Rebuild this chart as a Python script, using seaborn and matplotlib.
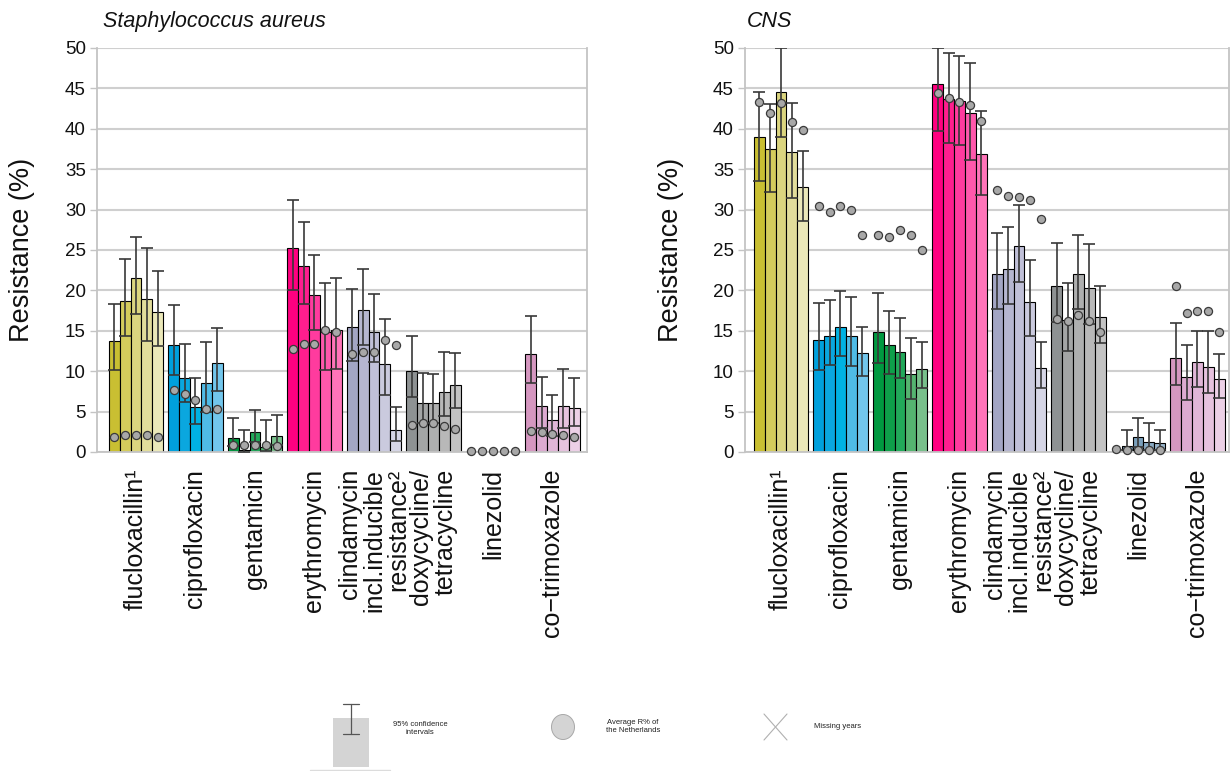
import numpy as np
import pandas as pd
import matplotlib
matplotlib.use("Agg")
import matplotlib.pyplot as plt
import seaborn as sns
from matplotlib.patches import Rectangle, Ellipse

sns.set_theme(style="white")
plt.rcParams["font.family"] = ["Liberation Sans", "DejaVu Sans"]

antibiotics = [
    "flucloxacillin¹",
    "ciprofloxacin",
    "gentamicin",
    "erythromycin",
    "clindamycin\nincl.inducible\nresistance²",
    "doxycycline/\ntetracycline",
    "linezolid",
    "co−trimoxazole",
]
years = ["2014", "2015", "2016", "2017", "2018"]
nan = np.nan

# Staphylococcus aureus: resistance (%), 95% CI and national average, per antibiotic x year
sa_resistance = [
    [13.7, 18.7, 21.5, 18.9, 17.3],
    [13.3, 9.2, 5.6, 8.6, 11.0],
    [1.7, 0.3, 2.5, 0.6, 2.0],
    [25.3, 23.0, 19.4, 14.8, 15.1],
    [15.5, 17.6, 14.8, 10.9, 2.7],
    [10.0, 6.1, 6.1, 7.4, 8.3],
    [0.0, 0.0, 0.0, 0.0, 0.0],
    [12.1, 5.7, 3.9, 5.7, 5.5],
]
sa_ci_low = [
    [10.1, 14.3, 17.1, 13.7, 13.1],
    [9.5, 6.2, 3.5, 4.9, 7.6],
    [0.7, 0.05, 1.2, 0.1, 0.9],
    [20.1, 18.3, 15.1, 10.2, 10.3],
    [11.3, 13.3, 11.2, 7.0, 1.3],
    [6.8, 3.6, 3.6, 4.4, 5.5],
    [nan, nan, nan, nan, nan],
    [8.5, 3.0, 2.0, 3.0, 3.2],
]
sa_ci_high = [
    [18.3, 23.9, 26.6, 25.3, 22.4],
    [18.2, 13.4, 9.2, 13.6, 15.4],
    [4.2, 2.7, 5.2, 3.9, 4.6],
    [31.2, 28.5, 24.4, 20.9, 21.5],
    [20.2, 22.6, 19.5, 16.4, 5.6],
    [14.4, 9.8, 9.6, 12.4, 12.3],
    [nan, nan, nan, nan, nan],
    [16.8, 9.3, 7.0, 10.3, 9.1],
]
sa_national = [
    [1.8, 2.1, 2.1, 2.1, 1.8],
    [7.7, 7.2, 6.4, 5.3, 5.3],
    [0.9, 0.9, 0.9, 0.9, 0.8],
    [12.7, 13.4, 13.4, 15.1, 14.9],
    [12.1, 12.4, 12.4, 13.8, 13.3],
    [3.3, 3.6, 3.6, 3.2, 2.9],
    [0.1, 0.1, 0.1, 0.1, 0.1],
    [2.6, 2.5, 2.2, 2.1, 1.8],
]

# Coagulase-negative staphylococci
cns_resistance = [
    [39.0, 37.5, 44.5, 37.1, 32.8],
    [13.8, 14.4, 15.5, 14.4, 12.2],
    [14.9, 13.2, 12.4, 9.7, 10.3],
    [45.5, 43.7, 43.5, 42.0, 36.9],
    [22.0, 22.7, 25.5, 18.6, 10.4],
    [20.5, 16.3, 22.0, 20.3, 16.7],
    [0.0, 0.7, 1.9, 1.2, 1.1],
    [11.6, 9.3, 11.1, 10.5, 9.0],
]
cns_ci_low = [
    [33.6, 32.2, 39.0, 31.4, 28.6],
    [10.1, 10.8, 11.9, 10.6, 9.4],
    [11.0, 9.7, 9.1, 6.6, 7.9],
    [39.7, 38.2, 38.0, 36.1, 31.8],
    [17.7, 18.3, 21.1, 14.3, 7.9],
    [16.1, 12.5, 17.7, 15.8, 13.5],
    [nan, 0.2, 0.6, 0.3, 0.3],
    [8.3, 6.4, 8.1, 7.3, 6.7],
]
cns_ci_high = [
    [44.6, 43.1, 50.0, 43.2, 37.3],
    [18.5, 18.8, 19.9, 19.2, 15.5],
    [19.7, 17.5, 16.6, 14.1, 13.6],
    [50.0, 49.4, 49.0, 48.1, 42.2],
    [27.1, 27.8, 30.6, 23.8, 13.6],
    [25.9, 20.9, 26.9, 25.7, 20.5],
    [nan, 2.7, 4.2, 3.6, 2.7],
    [16.0, 13.2, 15.0, 15.0, 12.1],
]
cns_national = [
    [43.3, 42.0, 43.2, 40.9, 39.8],
    [30.4, 29.7, 30.5, 30.0, 26.9],
    [26.8, 26.6, 27.5, 26.8, 25.0],
    [44.4, 43.8, 43.3, 43.0, 41.0],
    [32.4, 31.7, 31.6, 31.2, 28.8],
    [16.5, 16.2, 16.9, 16.2, 14.9],
    [0.4, 0.2, 0.2, 0.3, 0.3],
    [20.5, 17.2, 17.5, 17.4, 14.9],
]

# one shade per year (dark -> light) for every antibiotic
shades = [
    ["#c9bf32", "#d4cc5c", "#dbd57f", "#e2dd9b", "#ebe8b9"],
    ["#00a0dc", "#0aa7df", "#00b2e3", "#4fbbe6", "#72c6ec"],
    ["#009940", "#0e9f4a", "#22a95a", "#55b470", "#78c08b"],
    ["#ff0080", "#ff1e8e", "#ff3b9e", "#ff58ac", "#ff74b9"],
    ["#a3a6c4", "#b5b6d0", "#c0c0d8", "#cacade", "#d6d6e6"],
    ["#8e9293", "#a3a5a5", "#aeafaf", "#b8b8b8", "#c3c3c3"],
    ["#5a84a4", "#6a93b2", "#7aa0bc", "#8aabc4", "#9ab6cc"],
    ["#d597c0", "#dcaad0", "#e1b6d7", "#e6c2de", "#ecd0e6"],
]


def to_long(values):
    rows = []
    for i, ab in enumerate(antibiotics):
        for j, yr in enumerate(years):
            rows.append({"antibiotic": ab, "year": yr, "resistance": values[i][j]})
    return pd.DataFrame(rows)


def draw_panel(ax, values, low, high, national, title, xlim, title_x):
    df = to_long(values)
    sns.barplot(data=df, x="antibiotic", y="resistance", hue="year",
                order=antibiotics, hue_order=years, width=0.91, dodge=True,
                errorbar=None, edgecolor="black", linewidth=0.8,
                legend=False, ax=ax, zorder=2)
    xs, ys, lo, hi, nat = [], [], [], [], []
    for j, cont in enumerate(ax.containers):
        for i, bar in enumerate(cont):
            bar.set_facecolor(shades[i][j])
            xc = bar.get_x() + bar.get_width() / 2
            xs.append(xc)
            ys.append(values[i][j])
            lo.append(low[i][j])
            hi.append(high[i][j])
            nat.append(national[i][j])
    xs, ys, lo, hi = map(np.asarray, (xs, ys, lo, hi))
    ok = ~np.isnan(lo)
    ax.errorbar(xs[ok], ys[ok], yerr=[ys[ok] - lo[ok], hi[ok] - ys[ok]],
                fmt="none", ecolor="#383838", elinewidth=1.2,
                capsize=4, capthick=1.2, zorder=3)
    ax.scatter(xs, nat, s=34, color="#a8a8a8", edgecolor="#3a3a3a",
               linewidth=0.9, zorder=4, clip_on=False)

    ax.set_ylim(0, 50)
    ax.set_xlim(*xlim)
    ax.set_yticks(range(0, 51, 5))
    ax.yaxis.grid(True, color="#cfcfcf", linewidth=1.5, zorder=0)
    ax.xaxis.grid(False)
    ax.set_axisbelow(True)
    for side in ("left", "right", "bottom"):
        ax.spines[side].set_visible(True)
        ax.spines[side].set_color("#c4c4c4")
        ax.spines[side].set_linewidth(1.3)
    ax.spines["top"].set_visible(False)
    ax.tick_params(axis="y", left=True, length=5, width=1, color="#c4c4c4",
                   labelsize=13.5, labelcolor="#111111", pad=3)
    ax.tick_params(axis="x", bottom=False, length=0, pad=12)
    ax.set_xticks(range(len(antibiotics)))
    ax.set_xticklabels(antibiotics, rotation=90, fontsize=18,
                       multialignment="right", linespacing=1.02,
                       color="#111111")
    ax.set_xlabel("")
    ax.set_ylabel("Resistance (%)", fontsize=19.5, color="#111111")
    ax.yaxis.set_label_coords(-0.126, 0.5)
    ax.text(title_x, 1.052, title, transform=ax.transAxes, style="italic",
            fontsize=15.5, ha="left", va="baseline", color="#111111")


fig = plt.figure(figsize=(12.31, 7.71), dpi=100)
W, H = 1231, 771
ax_sa = fig.add_axes([97 / W, 1 - 452 / H, 490 / W, 404 / H])
ax_cns = fig.add_axes([745 / W, 1 - 452 / H, 484 / W, 404 / H])

draw_panel(ax_sa, sa_resistance, sa_ci_low, sa_ci_high, sa_national,
           "Staphylococcus aureus", (-0.655, 7.58), 0.012)
draw_panel(ax_cns, cns_resistance, cns_ci_low, cns_ci_high, cns_national,
           "CNS", (-0.605, 7.53), 0.004)

# key along the bottom, drawn in pixel coordinates
key = fig.add_axes([0, 0, 1, 1], zorder=-1)
key.set_xlim(0, W)
key.set_ylim(H, 0)
key.axis("off")
key.plot([310, 390], [770, 770], color="#dcdcdc", linewidth=1)
key.add_patch(Rectangle((333, 718), 36, 49, facecolor="#d4d4d4", edgecolor="none"))
key.plot([351, 351], [704, 734], color="#555555", linewidth=0.9)
key.plot([343, 359], [704, 704], color="#555555", linewidth=0.9)
key.plot([343, 359], [734, 734], color="#555555", linewidth=0.9)
key.text(420, 728, "95% confidence\nintervals", fontsize=5.5, ha="center",
         va="center", color="#222222")
key.add_patch(Ellipse((563, 727), 23, 25, facecolor="#d4d4d4",
                      edgecolor="#a8a8a8", linewidth=0.7))
key.text(633, 727, "Average R% of\nthe Netherlands", fontsize=5.5, ha="center",
         va="center", color="#222222")
key.plot([764, 787], [714, 740], color="#b0b0b0", linewidth=0.8)
key.plot([764, 787], [740, 714], color="#b0b0b0", linewidth=0.8)
key.text(838, 727, "Missing years", fontsize=5.5, ha="center", va="center",
         color="#222222")

fig.savefig("out.png", dpi=100, facecolor="white")
